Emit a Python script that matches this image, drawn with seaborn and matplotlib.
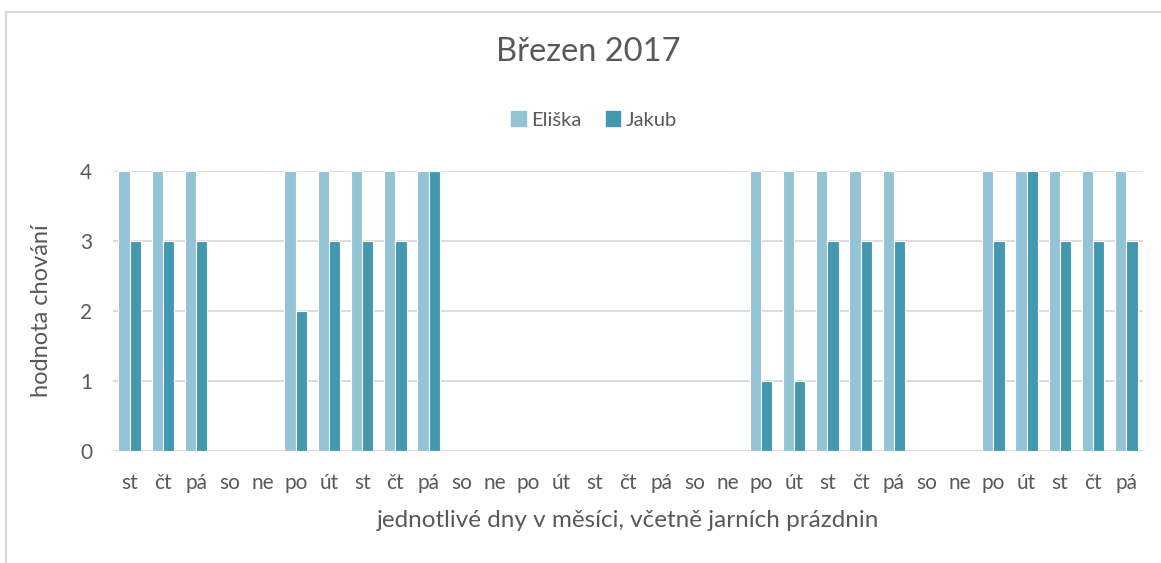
import matplotlib
matplotlib.use("Agg")
import matplotlib.pyplot as plt
import seaborn as sns
import pandas as pd
from matplotlib.lines import Line2D
from matplotlib.patches import Rectangle

days = ["st", "čt", "pá", "so", "ne", "po", "út", "st", "čt", "pá", "so", "ne",
        "po", "út", "st", "čt", "pá", "so", "ne", "po", "út", "st", "čt", "pá",
        "so", "ne", "po", "út", "st", "čt", "pá"]
eliska = [4, 4, 4, 0, 0, 4, 4, 4, 4, 4, 0, 0, 0, 0, 0, 0, 0, 0, 0,
          4, 4, 4, 4, 4, 0, 0, 4, 4, 4, 4, 4]
jakub = [3, 3, 3, 0, 0, 2, 3, 3, 3, 4, 0, 0, 0, 0, 0, 0, 0, 0, 0,
         1, 1, 3, 3, 3, 0, 0, 3, 4, 3, 3, 3]
series = ["Eliška", "Jakub"]
colors = ["#93C3D5", "#4398B0"]

n = len(days)
df = pd.DataFrame({
    "pos": list(range(n)) * 2,
    "value": eliska + jakub,
    "who": [series[0]] * n + [series[1]] * n,
})

sns.set_theme(style="white")
plt.rcParams["font.family"] = ["Lato", "DejaVu Sans"]
text_color = "#595959"

fig = plt.figure(figsize=(11.61, 5.63), dpi=100)
ax = fig.add_axes([113 / 1161, 1 - 451 / 563, (1143 - 113) / 1161, (451 - 171) / 563])

sns.barplot(data=df, x="pos", y="value", hue="who", palette=colors,
            width=0.68, ax=ax, saturation=1, edgecolor="white", linewidth=0.8,
            legend=False)

ax.set_ylim(0, 4)
ax.set_xlim(-0.5, n - 0.5)
ax.set_yticks([0, 1, 2, 3, 4])
ax.set_xticks(range(n))
ax.set_xticklabels(days)
ax.tick_params(axis="both", length=0, labelsize=15, colors=text_color)
ax.tick_params(axis="x", pad=16)
ax.tick_params(axis="y", pad=15)
ax.grid(axis="y", color="#D9D9D9", linewidth=1.3)
ax.set_axisbelow(True)
for s in ax.spines.values():
    s.set_visible(False)

ax.set_xlabel("jednotlivé dny v měsíci, včetně jarních prázdnin", fontsize=17.5,
              color=text_color, labelpad=12)
ax.set_ylabel("hodnota chování", fontsize=17, color=text_color, labelpad=20)

fig.text(588 / 1161, 1 - 52 / 563, "Březen 2017", ha="center", va="center",
         fontsize=23.5, color=text_color)

handles = [Rectangle((0, 0), 1, 1, color=c) for c in colors]
fig.legend(handles, series, loc="center", bbox_to_anchor=(0.512, 1 - 120 / 563),
           ncol=2, frameon=False, fontsize=14.5, handlelength=0.7, handleheight=0.7,
           handletextpad=0.3, columnspacing=1.2, labelcolor=text_color)

# chart-area frame (top and left edges only, as in the reference crop)
x0 = 5.5 / 1161
y0 = 1 - 11.5 / 563
fig.add_artist(Line2D([x0, 1], [y0, y0], transform=fig.transFigure,
                      color="#D9D9D9", linewidth=1.6))
fig.add_artist(Line2D([x0, x0], [0, y0], transform=fig.transFigure,
                      color="#D9D9D9", linewidth=1.6))

fig.savefig("out.png", dpi=100, facecolor="white")
